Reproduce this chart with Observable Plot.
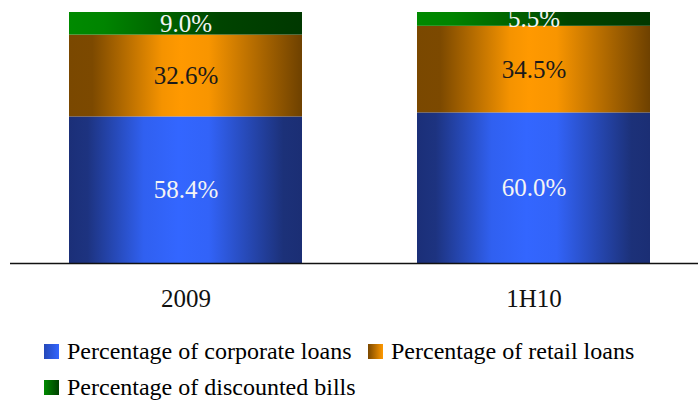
<!DOCTYPE html>
<html>
<head>
<meta charset="utf-8">
<script src="https://cdn.jsdelivr.net/npm/d3@7"></script>
<script src="https://cdn.jsdelivr.net/npm/@observablehq/plot@0.6"></script>
<style>
  html, body { margin: 0; padding: 0; background: #fff; }
  #chart { width: 698px; height: 401px; overflow: hidden; position: relative; }
  #chart svg { position: absolute; left: 0; top: 0; }
  .legend { font-family: "Liberation Serif", "Times New Roman", serif; font-size: 24px; line-height: 24px; color: #000; }
  .legend .item { position: absolute; top: 0; white-space: nowrap; }
  .legend .sw { width: 15px; height: 15px; margin-right: 8px; display: inline-block; vertical-align: baseline; }
</style>
</head>
<body>
<div id="chart"></div>
<script>
const categories = ["2009", "1H10"];
const seriesNames = ["Percentage of corporate loans", "Percentage of retail loans", "Percentage of discounted bills"];
const corporate = [58.4, 60.0];
const retail = [32.6, 34.5];
const discounted = [9.0, 5.5];

const seriesValues = [corporate, retail, discounted];
const gradIds = ["gBlue", "gOrange", "gGreen"];
const gradStops = [
  [["0%", "#1b2f78"], ["8%", "#1d3380"], ["32%", "#3060f0"], ["47%", "#3366ff"], ["60%", "#3263f8"], ["92%", "#1c3179"], ["100%", "#1b2e74"]],
  [["0%", "#7a4800"], ["10%", "#7c4900"], ["40%", "#f59300"], ["48%", "#ff9900"], ["60%", "#f89500"], ["100%", "#6e4100"]],
  [["0%", "#008a00"], ["15%", "#008400"], ["65%", "#004400"], ["100%", "#003800"]]
];
const swatchGrad = [
  "linear-gradient(to right, #2448b8, #3366ff)",
  "linear-gradient(to right, #7a4800, #ff9900)",
  "linear-gradient(to right, #008a00, #004000)"
];
const textColors = ["#f4f4f4", "#1a1a1a", "#f4f4f4"];

const rows = [];
seriesNames.forEach((s, si) => {
  categories.forEach((c, ci) => {
    rows.push({cat: c, series: s, si, value: seriesValues[si][ci]});
  });
});

const chart = Plot.plot({
  width: 698,
  height: 330,
  marginTop: 12,
  marginBottom: 67,
  marginLeft: 0,
  marginRight: 0,
  style: {background: "transparent", overflow: "visible", fontFamily: "Liberation Serif, serif"},
  x: {domain: categories, range: [-1.8, 720.6], paddingInner: 0.33, paddingOuter: 0.2, label: null},
  y: {domain: [0, 100], axis: null},
  color: {type: "identity"},
  marks: [
    Plot.barY(rows, Plot.stackY({x: "cat", y: "value", z: "series", fill: d => `url(#${gradIds[d.si]})`})),
    Plot.text(rows, Plot.stackY({
      x: "cat", y: "value", z: "series",
      text: d => d.value.toFixed(1) + "%",
      fill: d => textColors[d.si],
      fontSize: 25,
      clip: true
    })),
    Plot.ruleY([0], {stroke: "#111", strokeWidth: 1.5, insetLeft: 10}),
    Plot.axisX({tickSize: 0, tickPadding: 26, fontSize: 25, fill: "#111", label: null})
  ]
});

// gradient defs
const svg = d3.select(chart);
const defs = svg.insert("defs", ":first-child");
gradIds.forEach((id, i) => {
  const g = defs.append("linearGradient").attr("id", id).attr("x1", "0").attr("x2", "1").attr("y1", "0").attr("y2", "0");
  gradStops[i].forEach(([o, c]) => g.append("stop").attr("offset", o).attr("stop-color", c));
});
svg.selectAll("text").style("font-family", "'Liberation Serif', serif");

const root = document.getElementById("chart");
root.appendChild(chart);

// legend
const legend = document.createElement("div");
legend.className = "legend";
const layout = [
  {top: 339, items: [[0, 44], [1, 368]]},
  {top: 375, items: [[2, 44]]}
];
layout.forEach(r => {
  r.items.forEach(([i, left]) => {
    const it = document.createElement("div");
    it.className = "item";
    it.style.left = left + "px";
    it.style.top = r.top + "px";
    const sw = document.createElement("span");
    sw.className = "sw";
    sw.style.background = swatchGrad[i];
    it.appendChild(sw);
    it.appendChild(document.createTextNode(seriesNames[i]));
    legend.appendChild(it);
  });
});
root.appendChild(legend);
</script>
</body>
</html>
